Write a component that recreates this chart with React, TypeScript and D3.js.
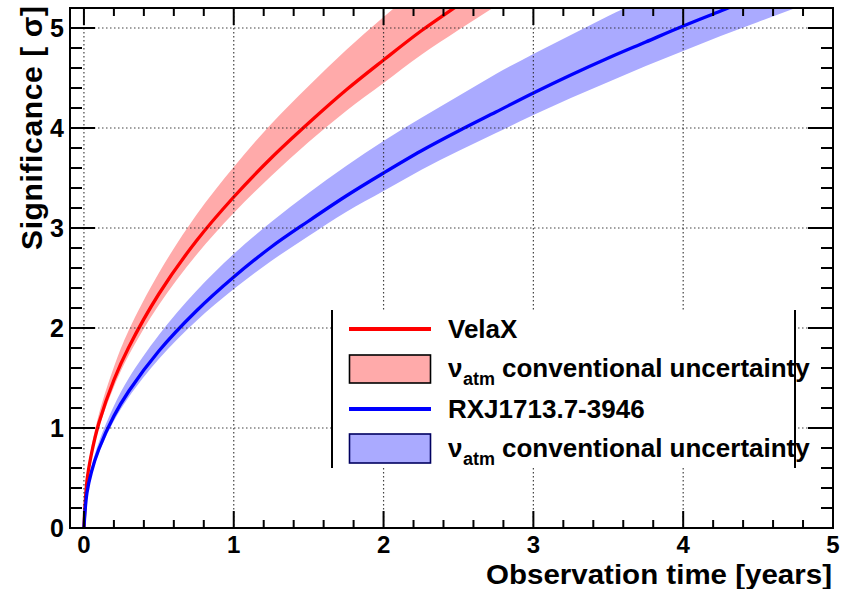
import React from "react";
import * as d3 from "d3";

// ---- data ----
const timeYears = [0, 0.02, 0.05, 0.1, 0.2, 0.3, 0.5, 0.75, 1, 1.25, 1.5, 1.75, 2, 2.25, 2.5, 2.75, 3, 3.25, 3.5, 3.75, 4, 4.25, 4.5, 4.75, 5];

const velaX = [0, 0.47, 0.74, 1.05, 1.48, 1.81, 2.34, 2.87, 3.31, 3.70, 4.05, 4.38, 4.68, 4.97, 5.23, 5.49];
const velaXHigh = [0, 0.51, 0.81, 1.14, 1.61, 1.98, 2.55, 3.13, 3.61, 4.04, 4.42, 4.78, 5.11, 5.42, 5.71];
const velaXLow = [0, 0.45, 0.70, 1.00, 1.41, 1.73, 2.23, 2.73, 3.15, 3.52, 3.86, 4.17, 4.45, 4.73, 4.98, 5.22, 5.46];

const rxj = [0, 0.35, 0.56, 0.79, 1.12, 1.37, 1.77, 2.17, 2.51, 2.81, 3.07, 3.32, 3.55, 3.77, 3.97, 4.16, 4.35, 4.53, 4.70, 4.86, 5.02, 5.17, 5.32];
const rxjHigh = [0, 0.39, 0.61, 0.86, 1.22, 1.50, 1.93, 2.37, 2.74, 3.06, 3.35, 3.62, 3.87, 4.10, 4.32, 4.54, 4.74, 4.93, 5.12, 5.30];
const rxjLow = [0, 0.34, 0.53, 0.75, 1.07, 1.31, 1.69, 2.07, 2.39, 2.67, 2.92, 3.16, 3.37, 3.58, 3.77, 3.95, 4.13, 4.30, 4.46, 4.62, 4.77, 4.92, 5.06, 5.20, 5.33];

const xMajorTicks = [0, 1, 2, 3, 4, 5];
const yMajorTicks = [0, 1, 2, 3, 4, 5];
const xGridTicks = [0, 1, 2, 3, 4];
const yGridTicks = [1, 2, 3, 4, 5];
const xMinorTicks = d3.range(0, 50, 2).map((v) => v / 10).filter((v) => !xMajorTicks.includes(v));
const yMinorTicks = d3.range(0, 52, 2).map((v) => v / 10).filter((v) => !yMajorTicks.includes(v) && v < 5.2);

const legendItems = ["VelaX", "conventional uncertainty", "RXJ1713.7-3946", "conventional uncertainty"];

const X_LABEL = "Observation time [years]";
const Y_LABEL = "Significance [ σ]";

// ---- layout ----
const W = 844, H = 589;
const L = 70, R = 833, T = 8, B = 528;

const FONT = "'Liberation Sans', Arial, Helvetica, sans-serif";

export default function App() {
  const x = d3.scaleLinear().domain([-0.093, 5]).range([L, R]);
  const y = d3.scaleLinear().domain([0, 5.2]).range([B, T]);

  const pts = (vals: number[]) => vals.map((v, i) => [x(timeYears[i]), y(v)] as [number, number]);
  const line = d3.line().curve(d3.curveCatmullRom.alpha(0.5));

  const band = (hi: number[], lo: number[]) => {
    const up = line(pts(hi)) as string;
    const down = line(pts(lo).reverse()) as string;
    return up + "L" + down.slice(1) + "Z";
  };

  const majorYLen = 25, minorYLen = 12; // ticks on vertical axes
  const majorXLen = 17, minorXLen = 8; // ticks on horizontal axes

  const legL = 332, legR = 795, legT = 310, legB = 468;

  return (
    <svg width={W} height={H} style={{ position: "fixed", left: 0, top: 0, background: "#fff" }} fontFamily={FONT}>
      <defs>
        <clipPath id="plot">
          <rect x={L} y={T} width={R - L} height={B - T} />
        </clipPath>
      </defs>
      <rect x={0} y={0} width={W} height={H} fill="#fff" />

      <g clipPath="url(#plot)">
        <path d={band(velaXHigh, velaXLow)} fill="#ffaaaa" stroke="none" />
        <path d={band(rxjHigh, rxjLow)} fill="#aaaaff" stroke="none" />
        <path d={line(pts(velaX)) as string} fill="none" stroke="#ff0000" strokeWidth={3.3} />
        <path d={line(pts(rxj)) as string} fill="none" stroke="#0000ff" strokeWidth={3.3} />
        {/* grid */}
        {xGridTicks.map((t) => (
          <line key={"gx" + t} x1={x(t)} x2={x(t)} y1={T} y2={B} stroke="#222" strokeWidth={1.2} strokeDasharray="1.5 2.5" opacity={0.85} />
        ))}
        {yGridTicks.map((t) => (
          <line key={"gy" + t} x1={L} x2={R} y1={y(t)} y2={y(t)} stroke="#222" strokeWidth={1.2} strokeDasharray="1.5 2.5" opacity={0.85} />
        ))}
      </g>

      {/* legend */}
      <rect x={legL} y={legT} width={legR - legL} height={legB - legT} fill="#fff" />
      <line x1={legL} x2={legL} y1={legT} y2={legB} stroke="#000" strokeWidth={2} />
      <line x1={legR} x2={legR} y1={legT} y2={legB} stroke="#000" strokeWidth={2} />
      <line x1={349} x2={431} y1={329} y2={329} stroke="#ff0000" strokeWidth={4} />
      <rect x={349.5} y={355} width={81} height={28} fill="#ffaaaa" stroke="#000" strokeWidth={1.6} />
      <line x1={349} x2={431} y1={409} y2={409} stroke="#0000ff" strokeWidth={4} />
      <rect x={349.5} y={434} width={81} height={29} fill="#aaaaff" stroke="#000060" strokeWidth={1.6} />
      <g fontWeight="bold" fontSize={26} fill="#000">
        <text x={448} y={338}>{legendItems[0]}</text>
        <text x={448} y={377}>ν</text>
        <text x={463} y={385} fontSize={18}>atm</text>
        <text x={502} y={377}>{legendItems[1]}</text>
        <text x={448} y={418}>{legendItems[2]}</text>
        <text x={448} y={457}>ν</text>
        <text x={463} y={465} fontSize={18}>atm</text>
        <text x={502} y={457}>{legendItems[3]}</text>
      </g>

      {/* frame */}
      <rect x={L} y={T} width={R - L} height={B - T} fill="none" stroke="#000" strokeWidth={2} />

      {/* ticks */}
      <g stroke="#000" strokeWidth={2}>
        {xMajorTicks.map((t) => (
          <g key={"xt" + t}>
            <line x1={x(t)} x2={x(t)} y1={B} y2={B - majorXLen} />
            <line x1={x(t)} x2={x(t)} y1={T} y2={T + majorXLen} />
          </g>
        ))}
        {xMinorTicks.map((t) => (
          <g key={"xm" + t}>
            <line x1={x(t)} x2={x(t)} y1={B} y2={B - minorXLen} />
            <line x1={x(t)} x2={x(t)} y1={T} y2={T + minorXLen} />
          </g>
        ))}
        {yMajorTicks.map((t) => (
          <g key={"yt" + t}>
            <line x1={L} x2={L + majorYLen} y1={y(t)} y2={y(t)} />
            <line x1={R} x2={R - majorYLen} y1={y(t)} y2={y(t)} />
          </g>
        ))}
        {yMinorTicks.map((t) => (
          <g key={"ym" + t}>
            <line x1={L} x2={L + minorYLen} y1={y(t)} y2={y(t)} />
            <line x1={R} x2={R - minorYLen} y1={y(t)} y2={y(t)} />
          </g>
        ))}
      </g>

      {/* tick labels */}
      <g fontWeight="bold" fill="#000">
        {xMajorTicks.map((t) => (
          <text key={"xl" + t} x={x(t)} y={553} textAnchor="middle" fontSize={24}>{t}</text>
        ))}
        {yMajorTicks.map((t) => (
          <text key={"yl" + t} x={64} y={y(t) + 9} textAnchor="end" fontSize={25}>{t}</text>
        ))}
      </g>

      {/* axis titles */}
      <text x={832} y={583.5} textAnchor="end" fontWeight="bold" fontSize={28} textLength={346} lengthAdjust="spacingAndGlyphs">{X_LABEL}</text>
      <text transform="translate(42,6) rotate(-90)" textAnchor="end" fontWeight="bold" fontSize={30} textLength={244} lengthAdjust="spacing">{Y_LABEL}</text>
    </svg>
  );
}
